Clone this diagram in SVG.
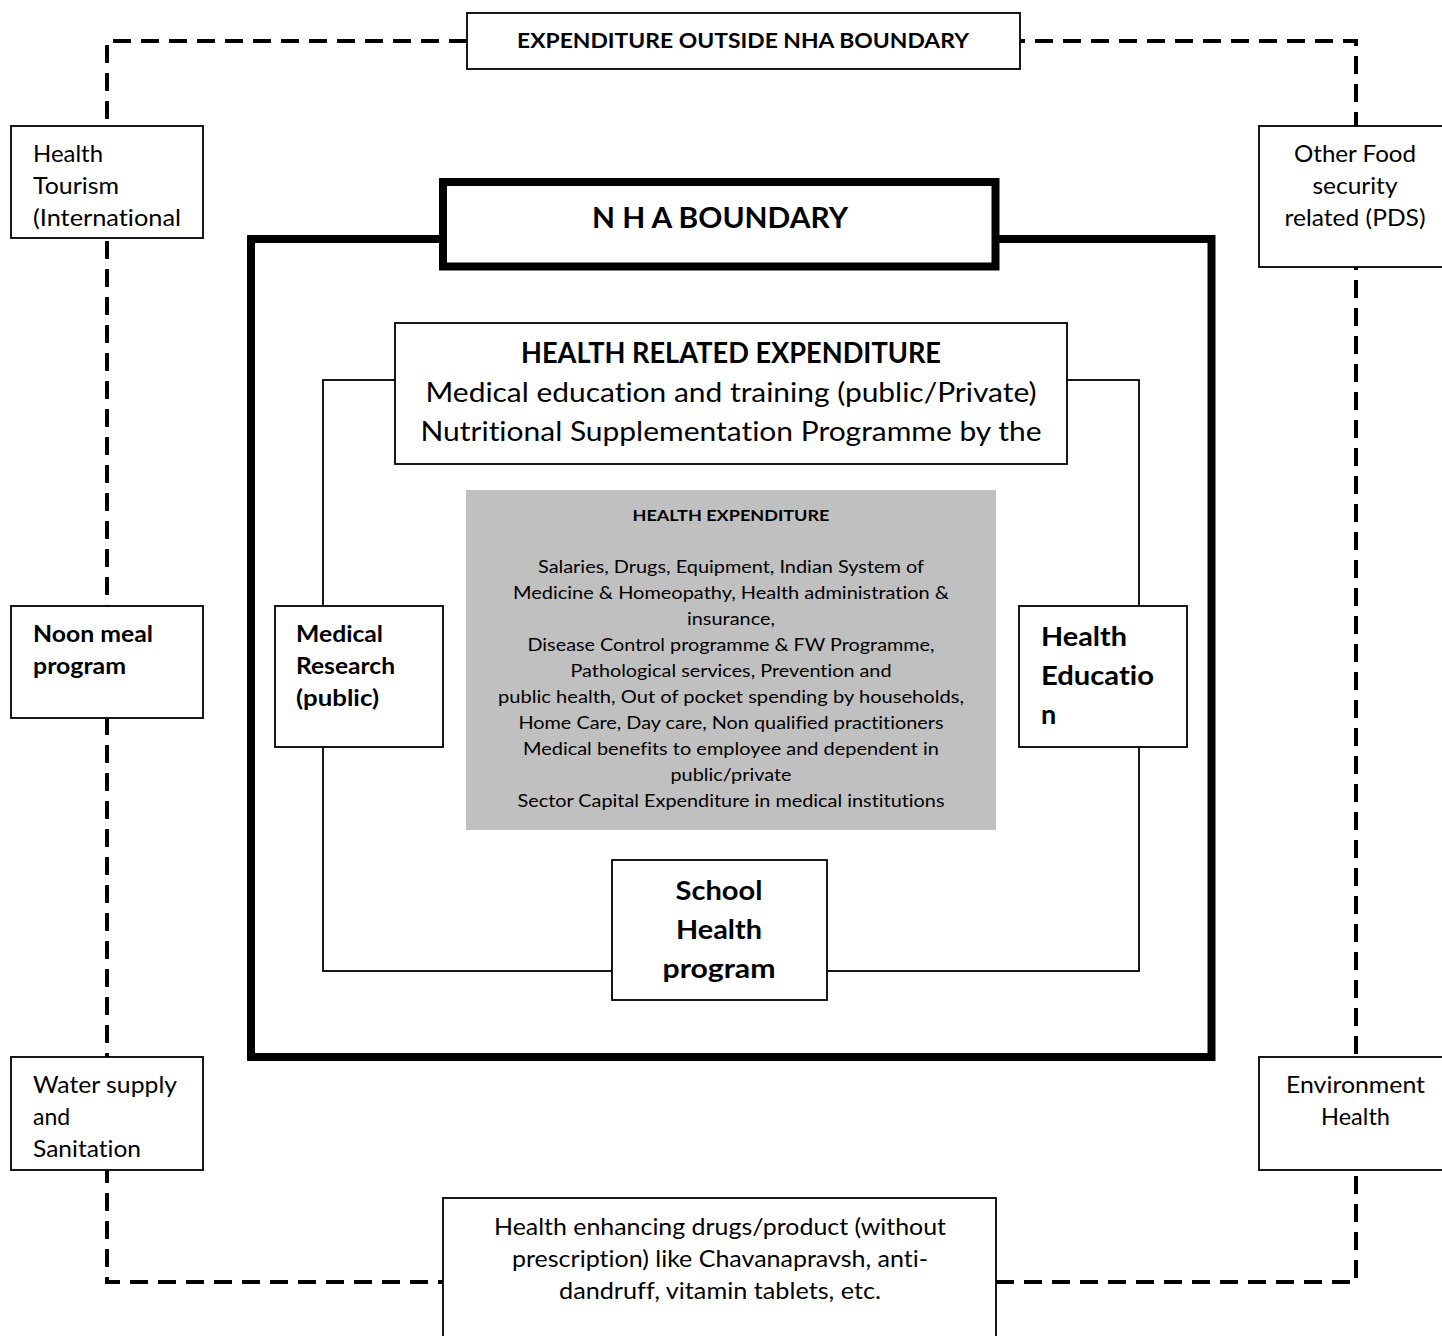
<svg xmlns="http://www.w3.org/2000/svg" width="1442" height="1336" viewBox="0 0 1442 1336">
<style>
text{font-family:Lato,"Liberation Sans",sans-serif;fill:#000;font-variant-ligatures:none}
.b{font-weight:bold}
.c{text-anchor:middle}
.box{fill:#fff;stroke:#000;stroke-width:1.8}
.thick{fill:#fff;stroke:#000;stroke-width:8}
.dash{fill:none;stroke:#000;stroke-width:4;stroke-dasharray:18 10}
.thin{fill:none;stroke:#000;stroke-width:1.8}
.n{font-size:23px}
</style>
<rect width="1442" height="1336" fill="#fff"/>
<g id="connectors">
<path class="dash" d="M467,41 H107 V1282 H443 M996,1282 H1356 V41 H1019"/>
</g>
<g id="nha-boundary">
<rect class="thick" x="251" y="239" width="960.5" height="818"/>
</g>
<g id="inner-frame">
<rect class="thin" x="323" y="380" width="816" height="591"/>
</g>
<g id="expenditure-outside">
<rect class="box" x="467" y="13" width="553" height="56"/>
<text class="b c" x="743" y="48" font-size="20" textLength="452" lengthAdjust="spacingAndGlyphs">EXPENDITURE OUTSIDE NHA BOUNDARY</text>
</g>
<g id="nha-title">
<rect class="thick" x="443" y="182" width="552.5" height="84.5"/>
<text class="b c" x="720" y="228" font-size="28" textLength="256" lengthAdjust="spacingAndGlyphs">N H A BOUNDARY</text>
</g>
<g id="health-tourism">
<rect class="box" x="11" y="126" width="192" height="112"/>
<text class="n" x="33" y="162" textLength="70" lengthAdjust="spacingAndGlyphs">Health</text>
<text class="n" x="33" y="194" textLength="86" lengthAdjust="spacingAndGlyphs">Tourism</text>
<text class="n" x="33" y="226" textLength="148" lengthAdjust="spacingAndGlyphs">(International</text>
</g>
<g id="other-food">
<rect class="box" x="1259" y="126" width="200" height="141"/>
<text class="n c" x="1355" y="162" textLength="122" lengthAdjust="spacingAndGlyphs">Other Food</text>
<text class="n c" x="1355" y="194" textLength="85" lengthAdjust="spacingAndGlyphs">security</text>
<text class="n c" x="1355" y="226" textLength="141" lengthAdjust="spacingAndGlyphs">related (PDS)</text>
</g>
<g id="noon-meal">
<rect class="box" x="11" y="606" width="192" height="112"/>
<text class="n b" x="33" y="642" textLength="120" lengthAdjust="spacingAndGlyphs">Noon meal</text>
<text class="n b" x="33" y="674" textLength="93" lengthAdjust="spacingAndGlyphs">program</text>
</g>
<g id="water-supply">
<rect class="box" x="11" y="1057" width="192" height="113"/>
<text class="n" x="33" y="1093" textLength="144" lengthAdjust="spacingAndGlyphs">Water supply</text>
<text class="n" x="33" y="1125">and</text>
<text class="n" x="33" y="1157" textLength="108" lengthAdjust="spacingAndGlyphs">Sanitation</text>
</g>
<g id="environment-health">
<rect class="box" x="1259" y="1057" width="200" height="113"/>
<text class="n c" x="1355.5" y="1093" textLength="139" lengthAdjust="spacingAndGlyphs">Environment</text>
<text class="n c" x="1355.5" y="1125" textLength="69" lengthAdjust="spacingAndGlyphs">Health</text>
</g>
<g id="health-enhancing">
<rect class="box" x="443" y="1198" width="553" height="160"/>
<text class="n c" x="720" y="1235" textLength="452" lengthAdjust="spacingAndGlyphs">Health enhancing drugs/product (without</text>
<text class="n c" x="720" y="1267" textLength="416" lengthAdjust="spacingAndGlyphs">prescription) like Chavanapravsh, anti-</text>
<text class="n c" x="720" y="1299" textLength="322" lengthAdjust="spacingAndGlyphs">dandruff, vitamin tablets, etc.</text>
</g>
<g id="health-related">
<rect class="box" x="395" y="323" width="672" height="141"/>
<text class="b c" x="731" y="363" font-size="28" textLength="420" lengthAdjust="spacingAndGlyphs">HEALTH RELATED EXPENDITURE</text>
<text class="c" x="731" y="402" font-size="27" textLength="611" lengthAdjust="spacingAndGlyphs">Medical education and training (public/Private)</text>
<text class="c" x="731" y="441" font-size="27" textLength="621" lengthAdjust="spacingAndGlyphs">Nutritional Supplementation Programme by the</text>
</g>
<g id="health-expenditure">
<rect x="466" y="490" width="530" height="340" fill="#c0c0c0"/>
<text class="b c" x="731" y="521" font-size="15.5" textLength="197" lengthAdjust="spacingAndGlyphs">HEALTH EXPENDITURE</text>
<g font-size="18">
<text class="c" x="731" y="573" textLength="386" lengthAdjust="spacingAndGlyphs">Salaries, Drugs, Equipment, Indian System of</text>
<text class="c" x="731" y="599" textLength="436" lengthAdjust="spacingAndGlyphs">Medicine &amp; Homeopathy, Health administration &amp;</text>
<text class="c" x="731" y="625" textLength="88" lengthAdjust="spacingAndGlyphs">insurance,</text>
<text class="c" x="731" y="651" textLength="407" lengthAdjust="spacingAndGlyphs">Disease Control programme &amp; FW Programme,</text>
<text class="c" x="731" y="677" textLength="321" lengthAdjust="spacingAndGlyphs">Pathological services, Prevention and</text>
<text class="c" x="731" y="703" textLength="466" lengthAdjust="spacingAndGlyphs">public health, Out of pocket spending by households,</text>
<text class="c" x="731" y="729" textLength="425" lengthAdjust="spacingAndGlyphs">Home Care, Day care, Non qualified practitioners</text>
<text class="c" x="731" y="755" textLength="416" lengthAdjust="spacingAndGlyphs">Medical benefits to employee and dependent in</text>
<text class="c" x="731" y="781" textLength="121" lengthAdjust="spacingAndGlyphs">public/private</text>
<text class="c" x="731" y="807" textLength="427" lengthAdjust="spacingAndGlyphs">Sector Capital Expenditure in medical institutions</text>
</g>
</g>
<g id="medical-research">
<rect class="box" x="275" y="606" width="168" height="141"/>
<text class="n b" x="296" y="642" textLength="87" lengthAdjust="spacingAndGlyphs">Medical</text>
<text class="n b" x="296" y="674" textLength="99" lengthAdjust="spacingAndGlyphs">Research</text>
<text class="n b" x="296" y="706" textLength="83" lengthAdjust="spacingAndGlyphs">(public)</text>
</g>
<g id="health-education">
<rect class="box" x="1019" y="606" width="168" height="141"/>
<text class="b" x="1041" y="646" font-size="27" textLength="86" lengthAdjust="spacingAndGlyphs">Health</text>
<text class="b" x="1041" y="685" font-size="27" textLength="113" lengthAdjust="spacingAndGlyphs">Educatio</text>
<text class="b" x="1041" y="724" font-size="27">n</text>
</g>
<g id="school-health">
<rect class="box" x="612" y="860" width="215" height="140"/>
<text class="b c" x="719" y="900" font-size="27" textLength="87" lengthAdjust="spacingAndGlyphs">School</text>
<text class="b c" x="719" y="939" font-size="27" textLength="86" lengthAdjust="spacingAndGlyphs">Health</text>
<text class="b c" x="719" y="978" font-size="27" textLength="113" lengthAdjust="spacingAndGlyphs">program</text>
</g>
</svg>
